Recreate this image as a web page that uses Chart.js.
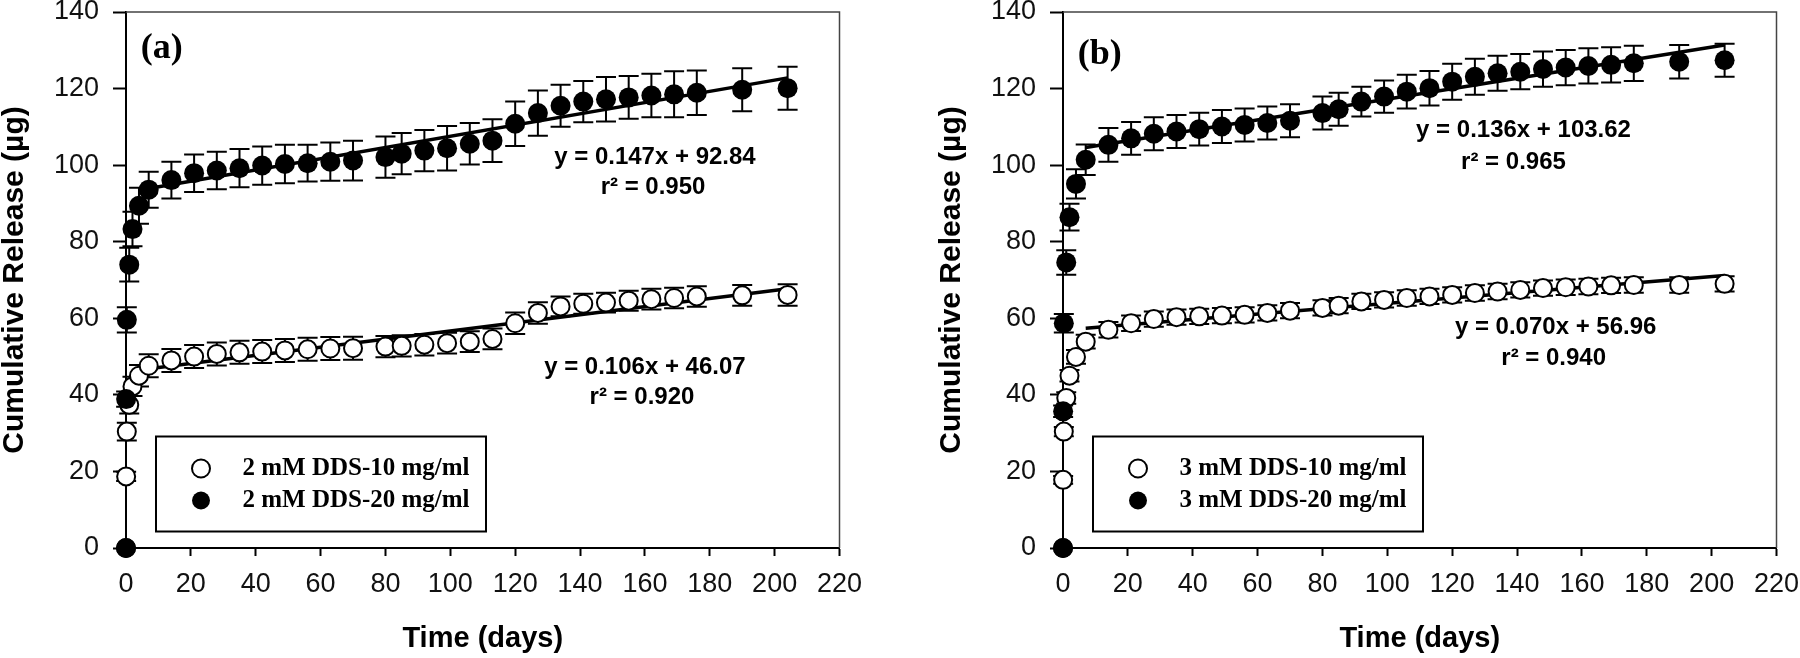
<!DOCTYPE html>
<html><head><meta charset="utf-8">
<script src="https://cdn.jsdelivr.net/npm/chart.js@4.4.0/dist/chart.umd.min.js"></script>
<style>
html,body{margin:0;padding:0;background:#fff;}
#wrap{position:relative;width:1800px;height:658px;overflow:hidden;background:#fff;}
#ca{position:absolute;left:0;top:0;}
#cb{position:absolute;left:937px;top:0;}
</style></head><body>
<div id="wrap"><canvas id="ca" width="937" height="658"></canvas><canvas id="cb" width="863" height="658"></canvas></div>
<script>
// ---- data ----
const days = [0, 0.04, 0.25, 1, 2, 4, 7, 14, 21, 28, 35, 42, 49, 56, 63, 70, 80, 85, 92, 99, 106, 113, 120, 127, 134, 141, 148, 155, 162, 169, 176, 190, 204];
const xTicks = [0, 20, 40, 60, 80, 100, 120, 140, 160, 180, 200, 220];
const yTicks = [0, 20, 40, 60, 80, 100, 120, 140];

const a10 = [0, 18.7, 30.4, 37.4, 42.2, 45.0, 47.6, 49.0, 50.0, 50.7, 51.1, 51.3, 51.6, 51.9, 52.1, 52.2, 52.6, 52.8, 53.1, 53.5, 53.9, 54.6, 58.7, 61.4, 63.1, 63.8, 64.1, 64.6, 65.0, 65.3, 65.7, 66.0, 66.1];
const a10Err = [0, 1.2, 2.3, 2.3, 2.5, 2.8, 3.0, 3.0, 3.0, 3.0, 3.0, 3.0, 3.0, 3.0, 3.0, 3.0, 2.8, 2.8, 2.8, 2.7, 2.7, 2.7, 2.8, 2.8, 2.6, 2.6, 2.6, 2.6, 2.7, 2.7, 2.7, 2.7, 2.8];
const a20 = [0, 38.9, 59.6, 74.0, 83.3, 89.4, 93.6, 96.1, 97.9, 98.6, 99.2, 99.9, 100.3, 100.5, 100.9, 101.2, 102.1, 103.0, 103.8, 104.4, 105.6, 106.4, 110.8, 113.6, 115.5, 116.6, 117.2, 117.7, 118.2, 118.5, 118.9, 119.7, 120.1];
const a20Err = [0, 2.0, 3.3, 4.4, 4.5, 4.7, 4.7, 4.8, 4.9, 4.9, 5.0, 5.0, 5.0, 4.8, 5.0, 5.2, 5.4, 5.4, 5.4, 5.8, 5.4, 5.6, 5.8, 5.9, 5.5, 5.4, 5.8, 5.6, 5.7, 6.0, 5.8, 5.6, 5.6];

const b10 = [0, 17.8, 30.4, 39.2, 45.0, 49.9, 53.9, 57.0, 58.7, 59.8, 60.3, 60.5, 60.7, 60.9, 61.4, 62.0, 62.7, 63.3, 64.4, 64.8, 65.3, 65.7, 66.1, 66.6, 67.0, 67.4, 67.9, 68.1, 68.3, 68.6, 68.7, 68.7, 69.0];
const b10Err = [0, 1.0, 1.2, 1.5, 1.5, 1.8, 1.8, 2.0, 2.0, 2.0, 2.0, 2.0, 2.0, 2.0, 2.0, 2.0, 2.0, 2.0, 2.0, 2.0, 2.0, 2.0, 2.0, 2.0, 2.0, 2.0, 2.0, 2.0, 2.0, 2.0, 2.0, 2.0, 2.0];
const b20 = [0, 35.7, 58.7, 74.6, 86.4, 95.1, 101.4, 105.3, 107.0, 108.2, 108.8, 109.4, 110.1, 110.5, 111.0, 111.6, 113.6, 114.6, 116.6, 117.9, 119.2, 120.1, 121.8, 123.1, 124.0, 124.4, 125.1, 125.5, 125.9, 126.2, 126.6, 127.0, 127.4];
const b20Err = [0, 1.5, 2.4, 3.2, 3.5, 3.8, 4.0, 4.4, 4.3, 4.3, 4.3, 4.3, 4.3, 4.3, 4.3, 4.3, 4.3, 4.3, 3.9, 4.2, 4.4, 4.5, 4.7, 4.7, 4.6, 4.6, 4.6, 4.6, 4.6, 4.6, 4.6, 4.4, 4.3];

// regression lines (end points)
const fitDays = [7, 204];
const aFit10 = [46.8, 67.7];
const aFit20 = [93.9, 122.8];
const bFit10 = [57.4, 71.2];
const bFit20 = [104.6, 131.4];

const labelsA = ['2 mM DDS-10 mg/ml', '2 mM DDS-20 mg/ml'];
const labelsB = ['3 mM DDS-10 mg/ml', '3 mM DDS-20 mg/ml'];
const xTitle = 'Time (days)';
const yTitle = 'Cumulative Release (\u00b5g)';

// annotation texts (x, y in data units)
const notesA = [
  {t: 'y = 0.147x + 92.84', x: 163.1, y: 102.1},
  {t: 'r\u00b2 = 0.950', x: 162.5, y: 94.3},
  {t: 'y = 0.106x + 46.07', x: 160.0, y: 47.3},
  {t: 'r\u00b2 = 0.920', x: 159.1, y: 39.4}
];
const notesB = [
  {t: 'y = 0.136x + 103.62', x: 142.0, y: 109.2},
  {t: 'r\u00b2 = 0.965', x: 138.9, y: 100.8},
  {t: 'y = 0.070x + 56.96', x: 151.9, y: 57.5},
  {t: 'r\u00b2 = 0.940', x: 151.3, y: 49.4}
];
const panelTagA = {t: '(a)', x: 11.0, y: 130.5};
const panelTagB = {t: '(b)', x: 11.3, y: 128.8};

// ---- drawing ----
const pts = (xs, ys) => xs.map((x, i) => ({x: x, y: ys[i]}));

const errorBars = {
  id: 'errorBars',
  beforeDatasetsDraw(chart) {
    const ctx = chart.ctx, xs = chart.scales.x, ys = chart.scales.y;
    ctx.save();
    ctx.strokeStyle = '#000';
    ctx.lineWidth = 2;
    chart.data.datasets.forEach(ds => {
      if (!ds.err) return;
      ds.data.forEach((p, i) => {
        const e = ds.err[i];
        if (!e) return;
        const px = xs.getPixelForValue(p.x);
        const top = ys.getPixelForValue(p.y + e);
        const bot = ys.getPixelForValue(p.y - e);
        ctx.beginPath();
        ctx.moveTo(px, top); ctx.lineTo(px, bot);
        ctx.moveTo(px - 10, top); ctx.lineTo(px + 10, top);
        ctx.moveTo(px - 10, bot); ctx.lineTo(px + 10, bot);
        ctx.stroke();
      });
    });
    ctx.restore();
  }
};

function decoPlugin(notes, tag, labels) {
  return {
    id: 'deco',
    afterDatasetsDraw(chart) {
      const ctx = chart.ctx, xs = chart.scales.x, ys = chart.scales.y, ca = chart.chartArea;
      ctx.save();
      // frame top + right
      ctx.strokeStyle = '#444';
      ctx.lineWidth = 1.5;
      ctx.beginPath();
      ctx.moveTo(ca.left, ca.top); ctx.lineTo(ca.right, ca.top); ctx.lineTo(ca.right, ca.bottom);
      ctx.stroke();
      // panel tag
      ctx.fillStyle = '#000';
      ctx.textAlign = 'center';
      ctx.textBaseline = 'middle';
      ctx.font = 'bold 36px "Liberation Serif"';
      ctx.fillText(tag.t, xs.getPixelForValue(tag.x), ys.getPixelForValue(tag.y));
      // equations
      ctx.font = 'bold 24px "Liberation Sans"';
      notes.forEach(n => ctx.fillText(n.t, xs.getPixelForValue(n.x), ys.getPixelForValue(n.y)));
      // legend box
      const lx = ca.left + 30, ly = 436.5, lw = 330, lh = 95;
      ctx.lineWidth = 2;
      ctx.strokeStyle = '#000';
      ctx.strokeRect(lx, ly, lw, lh);
      ctx.font = 'bold 25px "Liberation Serif"';
      ctx.textAlign = 'left';
      [0, 1].forEach(i => {
        const ry = ly + 32 + i * 32;
        ctx.beginPath();
        ctx.arc(lx + 45, ry, 9, 0, Math.PI * 2);
        if (i === 0) { ctx.fillStyle = '#fff'; ctx.fill(); ctx.lineWidth = 2; ctx.stroke(); }
        else { ctx.fillStyle = '#000'; ctx.fill(); }
        ctx.fillStyle = '#000';
        ctx.fillText(labels[i], lx + 86.5, ry);
      });
      ctx.restore();
    }
  };
}

function makeChart(id, v10, e10, v20, e20, f10, f20, labels, notes, tag, padRight) {
  return new Chart(document.getElementById(id), {
    type: 'scatter',
    data: {
      datasets: [
        {label: labels[1], data: pts(days, v20), err: e20, showLine: false, pointRadius: 10, pointBorderWidth: 0,
         pointBackgroundColor: '#000', pointBorderColor: '#000', order: 0, clip: false},
        {label: labels[0], data: pts(days, v10), err: e10, showLine: false, pointRadius: 9, pointBorderWidth: 2,
         pointBackgroundColor: '#fff', pointBorderColor: '#000', order: 1, clip: false},
        {label: 'fit10', data: pts(fitDays, f10), showLine: true, borderColor: '#000', borderWidth: 3.5,
         pointRadius: 0, order: 2, clip: false},
        {label: 'fit20', data: pts(fitDays, f20), showLine: true, borderColor: '#000', borderWidth: 3.5,
         pointRadius: 0, order: 2, clip: false}
      ]
    },
    options: {
      responsive: false,
      animation: false,
      events: [],
      devicePixelRatio: 1,
      layout: {padding: {left: 0, top: 12, right: padRight, bottom: 0}},
      plugins: {legend: {display: false}, tooltip: {enabled: false}},
      scales: {
        x: {
          type: 'linear', min: 0, max: 220,
          afterBuildTicks: s => { s.ticks = xTicks.map(v => ({value: v})); },
          afterFit: s => { s.height = 110; s.paddingLeft = 0; s.paddingRight = 0; },
          grid: {drawOnChartArea: false, drawTicks: true, tickLength: 8, tickWidth: 2, tickColor: '#000'},
          border: {display: true, color: '#000', width: 2},
          ticks: {color: '#111', font: {family: 'Liberation Sans', size: 27}, padding: 12, maxRotation: 0, autoSkip: false},
          title: {display: true, text: xTitle, color: '#000',
                  font: {family: 'Liberation Sans', size: 29, weight: 'bold'}, padding: {top: 0, bottom: 2}}
        },
        y: {
          type: 'linear', min: 0, max: 140,
          afterBuildTicks: s => { s.ticks = yTicks.map(v => ({value: v})); },
          afterFit: s => { s.width = 126; s.paddingTop = 0; s.paddingBottom = 0; },
          grid: {drawOnChartArea: false, drawTicks: true, tickLength: 13, tickWidth: 2, tickColor: '#000'},
          border: {display: true, color: '#000', width: 2},
          ticks: {color: '#111', font: {family: 'Liberation Sans', size: 27}, padding: 14},
          title: {display: true, text: yTitle, color: '#000',
                  font: {family: 'Liberation Sans', size: 30, weight: 'bold', lineHeight: 1}, padding: {top: 0, bottom: 0}}
        }
      }
    },
    plugins: [errorBars, decoPlugin(notes, tag, labels)]
  });
}

makeChart('ca', a10, a10Err, a20, a20Err, aFit10, aFit20, labelsA, notesA, panelTagA, 97.5);
makeChart('cb', b10, b10Err, b20, b20Err, bFit10, bFit20, labelsB, notesB, panelTagB, 23.5);
</script>
</body></html>
